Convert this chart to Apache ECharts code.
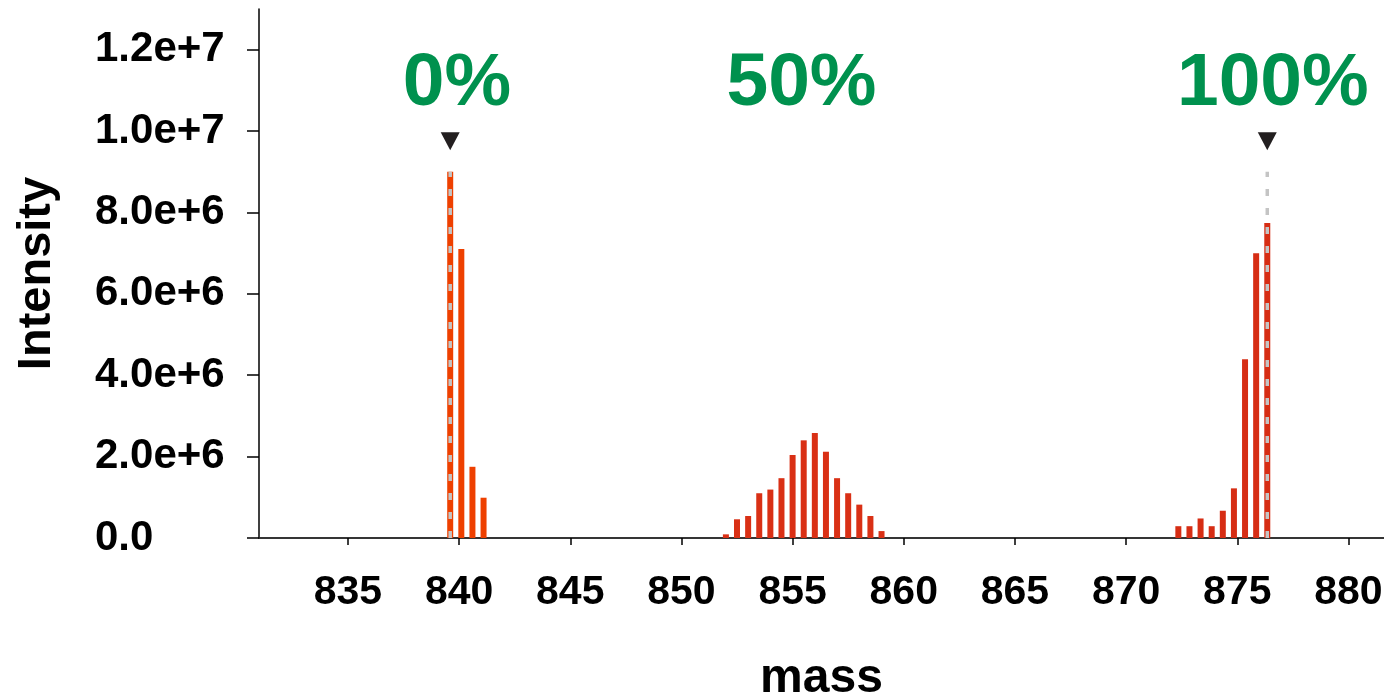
<!DOCTYPE html>
<html>
<head>
<meta charset="utf-8">
<style>
html,body{margin:0;padding:0;background:#fff;}
#chart{width:1384px;height:694px;}
</style>
<script src="https://cdn.jsdelivr.net/npm/echarts@6/dist/echarts.min.js"></script>
</head>
<body>
<div id="chart"></div>
<script>
// ---- data ----
const lightMass = [839.6, 840.1, 840.6, 841.1];
const lightIntensity = [9.0e6, 7.1e6, 1.75e6, 0.99e6];

const mixMass = [852.0, 852.5, 853.0, 853.5, 854.0, 854.5, 855.0, 855.5, 856.0, 856.5, 857.0, 857.5, 858.0, 858.5, 859.0];
const mixIntensity = [0.09e6, 0.46e6, 0.54e6, 1.10e6, 1.19e6, 1.47e6, 2.04e6, 2.40e6, 2.58e6, 2.12e6, 1.47e6, 1.10e6, 0.82e6, 0.54e6, 0.17e6];

const heavyMass = [872.35, 872.85, 873.35, 873.85, 874.35, 874.85, 875.35, 875.85, 876.35];
const heavyIntensity = [0.29e6, 0.29e6, 0.48e6, 0.29e6, 0.67e6, 1.22e6, 4.39e6, 7.0e6, 7.74e6];

const markerMass = [839.6, 876.35];
const markerLineTop = 9.0e6;
const markerArrowLevel = 9.75e6;

const labelTexts = ['0%', '50%', '100%'];
const labelMass = [839.9, 855.4, 876.6];
const labelLevel = 11.15e6;

const xTicks = [835, 840, 845, 850, 855, 860, 865, 870, 875, 880];
const yTicks = [0, 2e6, 4e6, 6e6, 8e6, 1.0e7, 1.2e7];

// ---- chart ----
const FONT = '"Liberation Sans", Arial, Helvetica, sans-serif';
const pair = (xs, ys) => xs.map((x, i) => [x, ys[i]]);

function sci(v) {
  if (v === 0) return '0.0';
  const e = Math.floor(Math.log10(v) + 1e-9);
  const m = v / Math.pow(10, e);
  return m.toFixed(1) + 'e+' + e;
}

const dashData = [];
markerMass.forEach((m, i) => {
  if (i > 0) dashData.push([null, null]);
  dashData.push([m, 0]);
  dashData.push([m, markerLineTop]);
});

const barCommon = { type: 'bar', barWidth: 6, barGap: '-100%', silent: true, z: 2 };

const chart = echarts.init(document.getElementById('chart'));
chart.setOption({
  animation: false,
  backgroundColor: '#ffffff',
  grid: { left: 259, right: 0, top: 9, bottom: 156, containLabel: false, outerBoundsMode: 'none' },
  xAxis: [{
    type: 'value', min: 831, max: 881.6,
    name: 'mass', nameLocation: 'middle', nameGap: 117,
    nameTextStyle: { fontFamily: FONT, fontWeight: 'bold', fontSize: 48, color: '#000' },
    axisLine: { show: true, onZero: false, lineStyle: { color: '#000', width: 1.5 } },
    axisTick: { show: true, length: 7, customValues: xTicks, lineStyle: { color: '#000', width: 1.5 } },
    axisLabel: { show: true, customValues: xTicks, margin: 34, fontFamily: FONT, fontWeight: 'bold', fontSize: 41, color: '#000' },
    splitLine: { show: false }
  }, {
    type: 'value', position: 'top', min: 831, max: 881.6,
    axisLine: { show: true, lineStyle: { color: '#333', width: 1.5 } },
    axisTick: { show: false }, axisLabel: { show: false }, splitLine: { show: false }
  }],
  yAxis: {
    type: 'value', min: 0, max: 1.3e7,
    name: 'Intensity', nameLocation: 'middle', nameGap: 198, nameRotate: 90,
    nameTextStyle: { fontFamily: FONT, fontWeight: 'bold', fontSize: 47, color: '#000' },
    axisLine: { show: true, lineStyle: { color: '#000', width: 1.5 } },
    axisTick: { show: true, length: 12, customValues: yTicks, lineStyle: { color: '#000', width: 1.5 } },
    axisLabel: { show: true, customValues: yTicks, margin: 164, align: 'left', formatter: sci, fontFamily: FONT, fontWeight: 'bold', fontSize: 42, color: '#000' },
    splitLine: { show: false }
  },
  series: [
    Object.assign({}, barCommon, { name: 'light', data: pair(lightMass, lightIntensity), itemStyle: { color: '#EE4000' } }),
    Object.assign({}, barCommon, { name: 'mix', data: pair(mixMass, mixIntensity), itemStyle: { color: '#D93015' } }),
    Object.assign({}, barCommon, { name: 'heavy', data: pair(heavyMass, heavyIntensity), itemStyle: { color: '#D62D14' } }),
    {
      type: 'line', name: 'marker-lines', data: dashData, showSymbol: false, symbol: 'none',
      connectNulls: false, silent: true, z: 5,
      lineStyle: { color: '#C4C4C4', width: 3.5, type: [7, 12] }
    },
    {
      type: 'scatter', name: 'marker-arrows', silent: true, z: 6,
      data: markerMass.map(m => [m, markerArrowLevel]),
      symbol: 'triangle', symbolRotate: 180, symbolSize: [19, 18],
      itemStyle: { color: '#231F20', opacity: 1 }
    },
    {
      type: 'scatter', name: 'labels', silent: true, z: 7,
      data: labelMass.map((m, i) => ({ value: [m, labelLevel], name: labelTexts[i] })),
      symbolSize: 0,
      itemStyle: { opacity: 1 },
      label: { show: true, position: 'inside', opacity: 1, formatter: p => p.name, fontFamily: FONT, fontWeight: 'bold', fontSize: 75, color: '#00914E' }
    }
  ]
});
</script>
</body>
</html>
